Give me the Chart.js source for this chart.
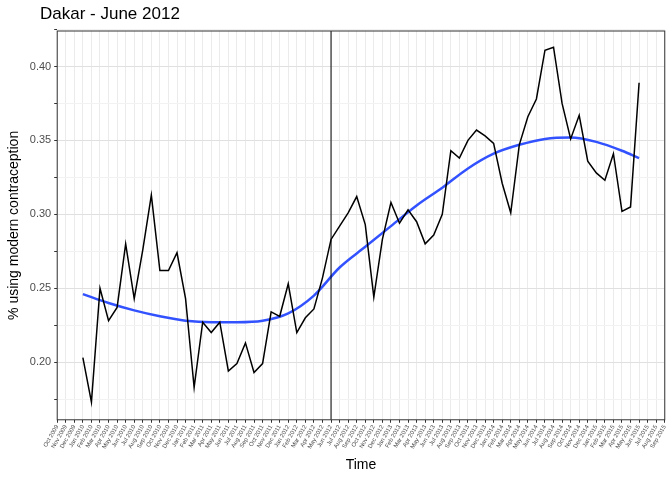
<!DOCTYPE html>
<html>
<head>
<meta charset="utf-8">
<script src="https://cdn.jsdelivr.net/npm/chart.js@4"></script>
<style>
  html, body { margin: 0; padding: 0; background: #fff; }
  #wrap { width: 672px; height: 480px; position: relative; }
  #title { position: absolute; left: 40px; top: 4px; font: 17px 'Liberation Sans', Arial, sans-serif; color: #000; }
</style>
</head>
<body>
<div id="wrap"><div id="title">Dakar - June 2012</div><canvas id="c"></canvas></div>
<script>
// Monthly tick labels: Oct 2009 .. Sep 2015
const months = ['Jan','Feb','Mar','Apr','May','Jun','Jul','Aug','Sep','Oct','Nov','Dec'];
const tickLabels = [];
for (let y = 2009; y <= 2015; y++) {
    for (let m = 0; m < 12; m++) {
        if ((y === 2009 && m < 9) || (y === 2015 && m > 8)) continue;
        tickLabels.push(months[m] + ' ' + y);
    }
}

// Observed values, Jan 2010 .. Jun 2015
const observed = [
    0.203, 0.173, 0.250, 0.228, 0.237, 0.280, 0.243, 0.276, 0.313, 0.262, 0.262, 0.274,
    0.243, 0.183, 0.227, 0.220, 0.227, 0.194, 0.199, 0.213, 0.193, 0.199, 0.234, 0.231,
    0.253, 0.220, 0.230, 0.236, 0.257, 0.283, 0.292, 0.301, 0.312, 0.293, 0.244, 0.283,
    0.308, 0.294, 0.303, 0.295, 0.280, 0.286, 0.300, 0.343, 0.338, 0.350, 0.357, 0.353,
    0.348, 0.321, 0.301, 0.347, 0.366, 0.378, 0.411, 0.413, 0.375, 0.351, 0.367, 0.336,
    0.328, 0.323, 0.341, 0.302, 0.305, 0.389
];

// Smoothed trend, read quarterly
const smoothLabels = ['Jan 2010','Apr 2010','Jul 2010','Oct 2010','Jan 2011','Apr 2011','Jul 2011','Oct 2011',
    'Jan 2012','Apr 2012','Jul 2012','Oct 2012','Jan 2013','Apr 2013','Jul 2013','Oct 2013',
    'Jan 2014','Apr 2014','Jul 2014','Oct 2014','Jan 2015','Apr 2015','Jun 2015'];
const smoothValues = [0.246, 0.240, 0.235, 0.231, 0.228, 0.227, 0.227, 0.228,
    0.233, 0.245, 0.264, 0.278, 0.292, 0.306, 0.318, 0.331,
    0.341, 0.347, 0.351, 0.352, 0.349, 0.343, 0.338];

const eventLabel = 'Jun 2012';

const obsData = tickLabels.map(() => null);
observed.forEach((v, i) => { obsData[tickLabels.indexOf('Jan 2010') + i] = v; });
const smoothData = tickLabels.map(() => null);
smoothLabels.forEach((l, i) => { smoothData[tickLabels.indexOf(l)] = smoothValues[i]; });

const eventLine = {
    id: 'eventLine',
    afterDatasetsDraw(chart) {
        const { ctx, chartArea, scales } = chart;
        const x = scales.x.getPixelForValue(tickLabels.indexOf(eventLabel));
        ctx.save();
        ctx.strokeStyle = '#000';
        ctx.lineWidth = 1;
        ctx.beginPath();
        ctx.moveTo(x, chartArea.top);
        ctx.lineTo(x, chartArea.bottom);
        ctx.stroke();
        ctx.strokeStyle = '#333';
        ctx.strokeRect(chartArea.left, chartArea.top, chartArea.right - chartArea.left, chartArea.bottom - chartArea.top);
        ctx.restore();
    }
};

Chart.defaults.font.family = 'Liberation Sans, Arial, sans-serif';
Chart.defaults.color = '#4d4d4d';

new Chart(document.getElementById('c'), {
    type: 'line',
    data: {
        labels: tickLabels,
        datasets: [{
            data: obsData,
            borderColor: '#000',
            borderWidth: 1.5,
            pointRadius: 0,
            tension: 0,
            spanGaps: false
        }, {
            data: smoothData,
            borderColor: '#3352ff',
            borderWidth: 2.5,
            pointRadius: 0,
            cubicInterpolationMode: 'monotone',
            spanGaps: true
        }]
    },
    options: {
        responsive: true,
        maintainAspectRatio: false,
        animation: false,
        layout: { padding: { left: 2, right: 6, top: 31, bottom: 6 } },
        plugins: {
            legend: { display: false },
            tooltip: { enabled: false },
            title: { display: false }
        },
        scales: {
            x: {
                offset: false,
                grid: { color: '#ebebeb', drawTicks: true, tickLength: 3, tickColor: '#333' },
                border: { display: false },
                ticks: {
                    autoSkip: false,
                    maxRotation: 60,
                    minRotation: 60,
                    font: { size: 6 },
                    color: '#4d4d4d',
                    padding: 1
                },
                title: { display: true, text: 'Time', color: '#000', font: { size: 14 }, padding: { top: 6, bottom: 0 } }
            },
            y: {
                min: 0.161,
                max: 0.424,
                grid: { color: ctx => (Math.round(ctx.tick.value * 1000) % 50 === 0 ? '#e0e0e0' : '#f2f2f2'), tickLength: 3, tickColor: '#333' },
                border: { display: false },
                afterBuildTicks: axis => {
                    const t = [];
                    for (let v = 0.175; v <= 0.4251; v += 0.025) t.push({ value: Math.round(v * 1000) / 1000 });
                    axis.ticks = t;
                },
                ticks: {
                    font: { size: 11 },
                    color: '#4d4d4d',
                    callback: v => (Math.round(v * 1000) % 50 === 0 ? v.toFixed(2) : '')
                },
                title: { display: true, text: '% using modern contraception', color: '#000', font: { size: 14 } }
            }
        }
    },
    plugins: [eventLine]
});
</script>
</body>
</html>
